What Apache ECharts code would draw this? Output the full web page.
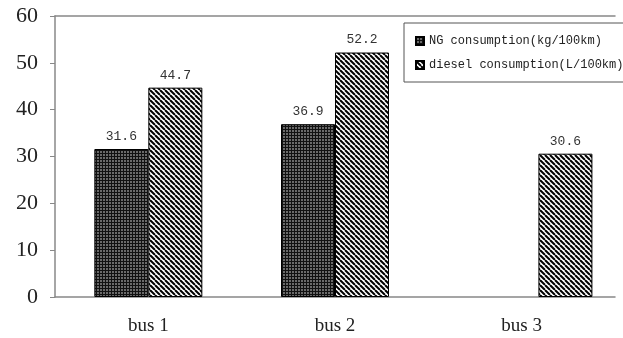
<!DOCTYPE html>
<html><head><meta charset="utf-8">
<script src="https://cdn.jsdelivr.net/npm/echarts@6/dist/echarts.min.js"></script>
<style>html,body{margin:0;padding:0;background:#fff}#c{width:623px;height:338px}</style>
</head><body><div id="c"></div>
<script>
const categories = ['bus 1', 'bus 2', 'bus 3'];
const ngValues = [31.6, 36.9, null];
const dieselValues = [44.7, 52.2, 30.6];
const yTicks = [0, 10, 20, 30, 40, 50, 60];
const seriesNames = ['NG consumption(kg/100km)', 'diesel consumption(L/100km)'];

function stripePattern() {
  const s = 5, c = document.createElement('canvas');
  c.width = s; c.height = s;
  const g = c.getContext('2d');
  g.fillStyle = '#fff'; g.fillRect(0, 0, s, s);
  g.strokeStyle = '#000'; g.lineWidth = 2;
  for (const o of [-s, 0, s]) {
    g.beginPath(); g.moveTo(o, 0); g.lineTo(o + s, s); g.stroke();
  }
  return c;
}
function dotPattern() {
  const s = 3, c = document.createElement('canvas');
  c.width = s; c.height = s;
  const g = c.getContext('2d');
  g.fillStyle = '#6a6a6a'; g.fillRect(0, 0, s, s);
  g.fillStyle = '#111'; g.fillRect(0, 0, s, 1); g.fillRect(0, 0, 1, s);
  return c;
}
const ngFill = { image: dotPattern(), repeat: 'repeat' };
const dieselFill = { image: stripePattern(), repeat: 'repeat' };

// bus 3 diesel bar sits shifted right in the reference; draw it on an overlay axis
const lastIdx = categories.length - 1;
const dieselMain = dieselValues.map((v, i) => i < lastIdx ? v : null);
const dieselShift = dieselValues.map((v, i) => i === lastIdx ? v : null);
const padSeries = categories.map(() => null);

const labelStyle = { show: true, position: 'top', distance: 6, color: '#333',
  fontFamily: 'Liberation Mono', fontSize: 13 };
const barStyleNG = { color: ngFill, borderColor: '#000', borderWidth: 1 };
const barStyleD = { color: dieselFill, borderColor: '#000', borderWidth: 1 };

const chart = echarts.init(document.getElementById('c'));
chart.setOption({
  animation: false,
  grid: { left: 55, right: 8, top: 16, bottom: 41 },
  legend: {
    data: seriesNames, orient: 'vertical', left: 404, top: 23, icon: 'rect',
    padding: [11, 30, 10, 11], itemGap: 10, itemWidth: 8, itemHeight: 8, itemTextGap: 6,
    borderColor: '#555', borderWidth: 1, backgroundColor: '#fff',
    textStyle: { fontFamily: 'Liberation Mono', fontSize: 12, color: '#222', lineHeight: 14 }
  },
  xAxis: [{
    type: 'category', data: categories, position: 'bottom',
    axisLine: { lineStyle: { color: '#888', width: 1.5 } },
    axisTick: { inside: true, length: 5, lineStyle: { color: '#888' } },
    axisLabel: { fontFamily: 'Liberation Serif', fontSize: 19, color: '#222', margin: 20 }
  }, {
    type: 'category', data: categories, position: 'top',
    axisLine: { lineStyle: { color: '#888', width: 1.5 } },
    axisTick: { show: false }, axisLabel: { show: false }
  }],
  yAxis: {
    type: 'value', min: yTicks[0], max: yTicks[yTicks.length - 1], interval: 10,
    axisLine: { show: true, lineStyle: { color: '#888', width: 1.5 } },
    axisTick: { show: true, length: 5, lineStyle: { color: '#888' } },
    splitLine: { show: false },
    axisLabel: { fontFamily: 'Liberation Serif', fontSize: 22, color: '#222', margin: 17 }
  },
  series: [
    { name: seriesNames[0], type: 'bar', xAxisIndex: 0, data: ngValues, barWidth: 54, barGap: 0,
      itemStyle: barStyleNG, label: labelStyle },
    { name: seriesNames[1], type: 'bar', xAxisIndex: 0, data: dieselMain, barWidth: 54, barGap: 0,
      itemStyle: barStyleD, label: labelStyle },
    { name: '_pad', type: 'bar', xAxisIndex: 1, data: padSeries, barWidth: 54, barGap: '62%' },
    { name: seriesNames[1], type: 'bar', xAxisIndex: 1, data: dieselShift, barWidth: 54, barGap: '62%',
      itemStyle: barStyleD, label: labelStyle }
  ]
});
</script></body></html>
